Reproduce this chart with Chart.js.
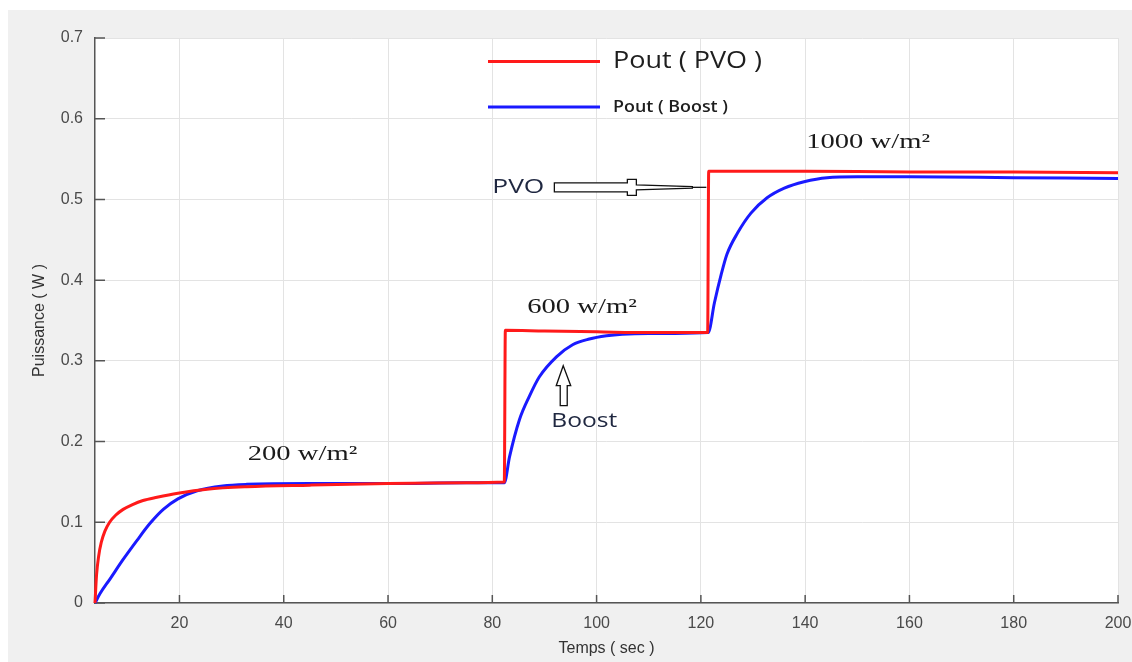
<!DOCTYPE html>
<html lang="fr">
<head>
    <meta charset="UTF-8">
    <title>Puissance PVO / Boost</title>
    <script src="https://cdn.jsdelivr.net/npm/chart.js"></script>
    <style>
        body { margin: 0; background: #fff; }
        #cadre { position: absolute; left: 8px; top: 10px; width: 1124px; height: 652px; background: #f0f0f0; }
        canvas { display: block; }
    </style>
</head>
<body>
    <div id="cadre">
        <canvas id="grafico" width="1124" height="652"></canvas>
    </div>

    <script>
    const tempsPVO = [3.8, 4.1, 4.5, 5.0, 5.7, 6.6, 7.8, 9.2, 11, 13, 15.7, 19.7, 25.3, 32.9, 45, 60, 75, 82.3, 82.5, 90, 100, 110, 121.3, 121.5, 140, 160, 180, 200];
    const puissancePVO = [0, 0.035, 0.058, 0.075, 0.089, 0.100, 0.109, 0.116, 0.122, 0.127, 0.131, 0.136, 0.141, 0.144, 0.146, 0.148, 0.149, 0.150, 0.338, 0.337, 0.336, 0.335, 0.335, 0.535, 0.535, 0.534, 0.534, 0.533];

    const tempsBoost = [3.8, 4.8, 6.7, 9.2, 11.9, 14.4, 16.9, 19.7, 23.4, 28.3, 32.9, 45, 60, 75, 82.3, 83.3, 85.2, 87.1, 89.0, 92.3, 95.4, 98.6, 101.9, 104.9, 110, 115, 121.4, 122.6, 123.9, 125.0, 127.0, 129.6, 132.7, 136.0, 139.8, 144.2, 150, 160, 180, 200];
    const puissanceBoost = [0, 0.012, 0.030, 0.054, 0.078, 0.099, 0.116, 0.129, 0.139, 0.145, 0.147, 0.148, 0.148, 0.149, 0.149, 0.181, 0.227, 0.256, 0.280, 0.305, 0.320, 0.327, 0.331, 0.333, 0.334, 0.334, 0.335, 0.372, 0.407, 0.432, 0.458, 0.483, 0.502, 0.514, 0.522, 0.527, 0.528, 0.528, 0.527, 0.526];

    const ticksX = [20, 40, 60, 80, 100, 120, 140, 160, 180, 200];
    const labelsX = ['20', '40', '60', '80', '100', '120', '140', '160', '180', '200'];
    const ticksY = [0, 0.1, 0.2, 0.3, 0.4, 0.5, 0.6, 0.7];
    const labelsY = ['0', '0.1', '0.2', '0.3', '0.4', '0.5', '0.6', '0.7'];

    // paliers d'éclairement : [texte, temps, puissance]
    const paliers = [
        ['200 w/m²', 33.1, 0.177],
        ['600 w/m²', 86.7, 0.359],
        ['1000 w/m²', 140.2, 0.564]
    ];

    const pointsDe = (xs, ys) => xs.map((t, i) => ({ x: t, y: ys[i] }));

    // texte étiré horizontalement pour occuper une largeur donnée
    function texteLarge(ctx, txt, x, y, largeur) {
        const w = ctx.measureText(txt).width;
        ctx.save();
        ctx.translate(x, y);
        ctx.scale(largeur / w, 1);
        ctx.fillText(txt, 0, 0);
        ctx.restore();
    }

    const fondBlanc = {
        id: 'fondBlanc',
        beforeDraw(chart) {
            const { ctx, chartArea: a } = chart;
            ctx.save();
            ctx.fillStyle = '#ffffff';
            ctx.fillRect(a.left, a.top, a.right - a.left, a.bottom - a.top);
            ctx.restore();
        }
    };

    // graduations vers l'intérieur, comme sous matlab
    const graduations = {
        id: 'graduations',
        beforeDatasetsDraw(chart) {
            const { ctx, chartArea: a, scales: { x, y } } = chart;
            ctx.save();
            ctx.strokeStyle = '#555';
            ctx.lineWidth = 1.5;
            ctx.beginPath();
            x.ticks.forEach(t => {
                const px = x.getPixelForValue(t.value);
                ctx.moveTo(px, a.bottom);
                ctx.lineTo(px, a.bottom - 8);
            });
            y.ticks.forEach(t => {
                const py = y.getPixelForValue(t.value);
                ctx.moveTo(a.left, py);
                ctx.lineTo(a.left + 10, py);
            });
            ctx.stroke();
            ctx.restore();
        }
    };

    const legendeEtNotes = {
        id: 'legendeEtNotes',
        afterDatasetsDraw(chart) {
            const { ctx, chartArea: a, scales: { x, y } } = chart;
            const ds = chart.data.datasets;
            ctx.save();

            // légende
            ctx.lineWidth = 3;
            ctx.strokeStyle = ds[0].borderColor;
            ctx.beginPath(); ctx.moveTo(a.left + 393, a.top + 23.5); ctx.lineTo(a.left + 505, a.top + 23.5); ctx.stroke();
            ctx.strokeStyle = ds[1].borderColor;
            ctx.beginPath(); ctx.moveTo(a.left + 393, a.top + 69); ctx.lineTo(a.left + 505, a.top + 69); ctx.stroke();
            ctx.fillStyle = '#1e1e1e';
            ctx.textBaseline = 'middle';
            ctx.font = '24px "Open Sans"';
            texteLarge(ctx, ds[0].label, a.left + 518, a.top + 23, 149);
            ctx.font = '600 16px "Open Sans"';
            texteLarge(ctx, ds[1].label, a.left + 518, a.top + 69, 115);

            // paliers
            ctx.textBaseline = 'alphabetic';
            ctx.fillStyle = '#1a1a1a';
            ctx.font = '22px "Liberation Serif"';
            paliers.forEach(([txt, t, p]) => {
                const larg = ctx.measureText(txt).width * 1.3;
                texteLarge(ctx, txt, x.getPixelForValue(t), y.getPixelForValue(p), larg);
            });

            // flèche PVO
            ctx.fillStyle = '#1f2740';
            ctx.font = '20px "Open Sans"';
            texteLarge(ctx, 'PVO', x.getPixelForValue(80.0), y.getPixelForValue(0.508), 52);
            const fx = x.getPixelForValue(91.9), fy = y.getPixelForValue(0.515);
            ctx.fillStyle = '#fff';
            ctx.strokeStyle = '#111';
            ctx.lineWidth = 1.3;
            ctx.beginPath();
            ctx.moveTo(fx, fy - 4.5);
            ctx.lineTo(fx + 73, fy - 4.5);
            ctx.lineTo(fx + 73, fy - 8);
            ctx.lineTo(fx + 82, fy - 8);
            ctx.lineTo(fx + 82, fy - 2.5);
            ctx.lineTo(fx + 138, fy - 0.8);
            ctx.lineTo(fx + 138, fy + 0.8);
            ctx.lineTo(fx + 82, fy + 2.5);
            ctx.lineTo(fx + 82, fy + 8);
            ctx.lineTo(fx + 73, fy + 8);
            ctx.lineTo(fx + 73, fy + 4.5);
            ctx.lineTo(fx, fy + 4.5);
            ctx.closePath();
            ctx.fill();
            ctx.stroke();
            ctx.beginPath();
            ctx.moveTo(fx + 138, fy);
            ctx.lineTo(fx + 152, fy);
            ctx.stroke();

            // flèche Boost
            ctx.fillStyle = '#1f2740';
            ctx.font = '20px "Open Sans"';
            texteLarge(ctx, 'Boost', x.getPixelForValue(91.3), y.getPixelForValue(0.218), 66);
            const bx = x.getPixelForValue(93.6), by = y.getPixelForValue(0.294);
            ctx.fillStyle = '#fff';
            ctx.beginPath();
            ctx.moveTo(bx, by);
            ctx.lineTo(bx + 7.5, by + 20);
            ctx.lineTo(bx + 4, by + 20);
            ctx.lineTo(bx + 4, by + 40);
            ctx.lineTo(bx - 3, by + 40);
            ctx.lineTo(bx - 3, by + 20);
            ctx.lineTo(bx - 7, by + 20);
            ctx.closePath();
            ctx.fill();
            ctx.stroke();

            ctx.restore();
        }
    };

    const policeTicks = { family: '"Liberation Sans", Arial', size: 16 };
    const policeTitre = { family: '"Liberation Sans", Arial', size: 16 };

    new Chart(document.getElementById('grafico'), {
        type: 'line',
        data: {
            datasets: [
                { label: 'Pout ( PVO )', data: pointsDe(tempsPVO, puissancePVO), borderColor: '#ff1a1a', borderWidth: 3, clip: 4 },
                { label: 'Pout ( Boost )', data: pointsDe(tempsBoost, puissanceBoost), borderColor: '#1a1aff', borderWidth: 3, clip: 4 }
            ]
        },
        options: {
            responsive: false,
            animation: false,
            layout: { padding: { top: 28, right: 14, left: 0, bottom: 0 } },
            elements: { point: { radius: 0 }, line: { cubicInterpolationMode: 'monotone' } },
            plugins: { legend: { display: false }, tooltip: { enabled: false } },
            scales: {
                x: {
                    type: 'linear',
                    min: 3.8,
                    max: 200,
                    afterBuildTicks: s => { s.ticks = ticksX.map(v => ({ value: v })); },
                    afterFit: s => { s.height = 59; s.paddingLeft = 0; s.paddingRight = 0; },
                    grid: { color: '#e3e3e3', drawTicks: false },
                    border: { color: '#555', width: 1.5 },
                    ticks: { padding: 11, color: '#4a4a4a', font: policeTicks, maxRotation: 0, callback: (v, i) => labelsX[i] },
                    title: { display: true, text: 'Temps ( sec )', color: '#333', font: policeTitre, padding: { top: 0, bottom: 4 } }
                },
                y: {
                    min: 0,
                    max: 0.7,
                    afterBuildTicks: s => { s.ticks = ticksY.map(v => ({ value: v })); },
                    afterFit: s => { s.width = 87; },
                    grid: { color: '#e3e3e3', drawTicks: false },
                    border: { color: '#555', width: 1.5 },
                    ticks: { padding: 12, color: '#4a4a4a', font: policeTicks, callback: (v, i) => labelsY[i] },
                    title: { display: true, text: 'Puissance ( W )', color: '#333', font: policeTitre, padding: { top: 22, bottom: 0 } }
                }
            }
        },
        plugins: [fondBlanc, graduations, legendeEtNotes]
    });
    </script>
</body>
</html>
